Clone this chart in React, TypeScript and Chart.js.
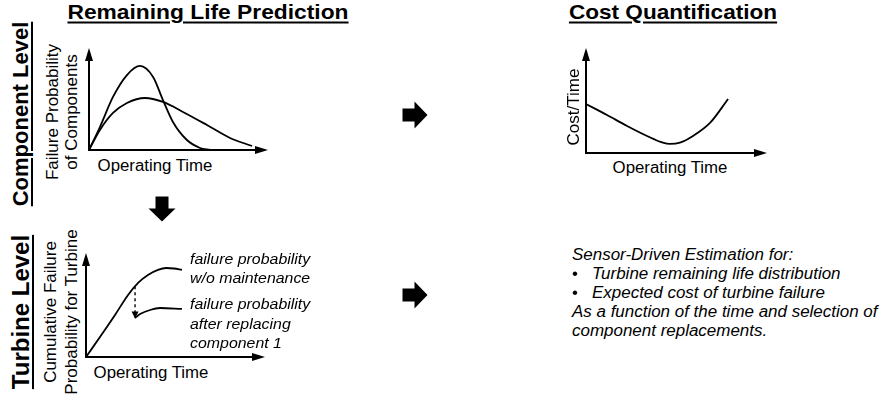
import React, { useEffect, useRef } from "react";
import { Chart, registerables } from "chart.js";
Chart.register(...registerables);

// ---- Data (time / value on a 0..100 scale for each sketch panel) ----
// Component level: two failure-probability density curves
const compTimeA = [0, 6.1, 13.4, 21.2, 28.5, 35.8, 41.3, 46.9, 54.7, 62.0, 67.6];
const compProbA = [0, 22.5, 52.0, 73.5, 82.4, 71.6, 49.0, 27.5, 9.8, 2.0, 0];
const compTimeB = [0, 6.1, 13.4, 21.2, 31.3, 41.3, 52.5, 65.9, 78.8, 91.1];
const compProbB = [0, 19.6, 36.3, 46.1, 51.0, 47.1, 37.3, 24.5, 11.8, 3.9];

// Turbine level: cumulative failure probability
const turbTime = [0, 7.8, 16.2, 23.5, 29.1, 34.6, 40.2, 44.7, 49.2, 53.6];
const turbProb = [0, 19.2, 40.4, 59.6, 71.2, 78.8, 83.7, 85.6, 85.1, 83.7];
const dropTime = [27.4, 27.4];
const dropProb = [68.0, 38.0];
const replTime = [27.4, 30.2, 35.8, 41.3, 53.6];
const replProb = [37.5, 41.3, 45.2, 47.1, 46.2];

// Cost quantification: cost per time
const costTime = [0, 11.6, 22.7, 33.7, 42.5, 46.4, 51.9, 59.1, 68.5, 78.5];
const costValue = [46.7, 36.2, 25.7, 16.2, 9.8, 8.6, 9.8, 16.2, 28.6, 51.4];

const FONT = "'Liberation Sans', Arial, Helvetica, sans-serif";

const pts = (xs: number[], ys: number[]) => xs.map((x, i) => ({ x, y: ys[i] }));

const arrowAxes = {
  id: "arrowAxes",
  beforeDatasetsDraw(chart: any) {
    const { ctx, chartArea: a } = chart;
    ctx.save();
    ctx.strokeStyle = "#000";
    ctx.fillStyle = "#000";
    ctx.lineWidth = 2;
    ctx.beginPath();
    ctx.moveTo(a.left, a.top + 10);
    ctx.lineTo(a.left, a.bottom);
    ctx.lineTo(a.right - 10, a.bottom);
    ctx.stroke();
    ctx.beginPath();
    ctx.moveTo(a.left, a.top);
    ctx.lineTo(a.left - 4, a.top + 13);
    ctx.lineTo(a.left + 4, a.top + 13);
    ctx.closePath();
    ctx.fill();
    ctx.beginPath();
    ctx.moveTo(a.right, a.bottom);
    ctx.lineTo(a.right - 13, a.bottom - 4);
    ctx.lineTo(a.right - 13, a.bottom + 4);
    ctx.closePath();
    ctx.fill();
    ctx.restore();
  },
  afterDatasetsDraw(chart: any) {
    const opts = chart.options.plugins.arrowAxes || {};
    if (opts.tipDataset === undefined) return;
    const meta = chart.getDatasetMeta(opts.tipDataset);
    const last = meta.data[meta.data.length - 1];
    if (!last) return;
    const { ctx } = chart;
    ctx.save();
    ctx.fillStyle = "#000";
    ctx.beginPath();
    ctx.moveTo(last.x, last.y + 1);
    ctx.lineTo(last.x - 3.5, last.y - 6);
    ctx.lineTo(last.x + 3.5, last.y - 6);
    ctx.closePath();
    ctx.fill();
    ctx.restore();
  },
};

type DS = { data: { x: number; y: number }[]; dash?: number[]; straight?: boolean };

function Sketch({ left, top, width, height, sets, tip }: { left: number; top: number; width: number; height: number; sets: DS[]; tip?: number }) {
  const ref = useRef<HTMLCanvasElement>(null);
  useEffect(() => {
    if (!ref.current) return;
    const chart = new Chart(ref.current, {
      type: "line",
      data: {
        datasets: sets.map((s) => ({
          data: s.data,
          borderColor: "#000",
          borderWidth: s.dash ? 1.4 : 1.8,
          borderDash: s.dash || [],
          pointRadius: 0,
          fill: false,
          cubicInterpolationMode: s.straight ? "default" : "monotone",
          tension: s.straight ? 0 : 0.4,
        })),
      },
      options: {
        responsive: false,
        maintainAspectRatio: false,
        animation: false,
        events: [],
        layout: { padding: 4 },
        scales: {
          x: { type: "linear", min: 0, max: 100, display: false },
          y: { type: "linear", min: 0, max: 100, display: false },
        },
        plugins: {
          legend: { display: false },
          tooltip: { enabled: false },
          arrowAxes: { tipDataset: tip },
        } as any,
      },
      plugins: [arrowAxes],
    });
    return () => chart.destroy();
  }, []);
  return (
    <div style={{ position: "absolute", left, top, width, height }}>
      <canvas ref={ref} width={width} height={height} style={{ display: "block" }} />
    </div>
  );
}

type TP = {
  x: number; y: number; size: number; text: string;
  bold?: boolean; italic?: boolean; underline?: boolean; rotate?: boolean; left?: boolean; sx?: number;
};

function T({ x, y, size, text, bold, italic, underline, rotate, left, sx = 1.06 }: TP) {
  let transform = `translate(-50%,-50%) scaleX(${sx})`;
  let origin = "center center";
  if (rotate) transform = "translate(-50%,-50%) rotate(-90deg)";
  else if (left) {
    transform = `translate(0,-50%) scaleX(${sx})`;
    origin = "left center";
  }
  return (
    <div
      style={{
        position: "absolute",
        left: x,
        top: y,
        fontSize: size,
        lineHeight: 1,
        whiteSpace: "pre",
        color: "#000",
        fontFamily: FONT,
        fontWeight: bold ? 700 : 400,
        fontStyle: italic ? "italic" : "normal",
        textDecoration: underline ? "underline" : "none",
        textDecorationThickness: underline ? "2px" : undefined,
        textUnderlineOffset: underline ? "3px" : undefined,
        transform,
        transformOrigin: origin,
      }}
    >
      {text}
    </div>
  );
}

function BlockArrow({ cx, cy, dir }: { cx: number; cy: number; dir: "right" | "down" }) {
  const p = [
    [-12.5, -6.5], [-0.5, -6.5], [-0.5, -13.5], [12.5, 0], [-0.5, 13.5], [-0.5, 6.5], [-12.5, 6.5],
  ];
  const rot = dir === "down" ? 90 : 0;
  return (
    <svg style={{ position: "absolute", left: cx - 16, top: cy - 16 }} width={32} height={32}>
      <polygon
        points={p.map(([a, b]) => `${a + 16},${b + 16}`).join(" ")}
        fill="#000"
        transform={`rotate(${rot} 16 16)`}
      />
    </svg>
  );
}

export default function App() {
  return (
    <div style={{ position: "absolute", left: 0, top: 0, width: 884, height: 400, background: "#fff", overflow: "hidden", fontFamily: FONT }}>
      {/* Titles */}
      <T x={207.5} y={10.5} size={21} bold underline text="Remaining Life Prediction" sx={1.085} />
      <T x={673} y={10.5} size={21} bold underline text="Cost Quantification" sx={1.075} />

      {/* Row labels */}
      <T x={21} y={113.5} size={22} bold underline rotate text="Component Level" />
      <T x={21} y={312} size={24} bold underline rotate text="Turbine Level" />

      {/* Component level sketch */}
      <Sketch left={85} top={44} width={187} height={110}
        sets={[{ data: pts(compTimeA, compProbA) }, { data: pts(compTimeB, compProbB) }]} />
      <T x={52} y={111.5} size={17} rotate text="Failure Probability" />
      <T x={71} y={111.5} size={17} rotate text="of Components" />
      <T x={155} y={165.5} size={16} text="Operating Time" sx={1.05} />

      {/* Turbine level sketch */}
      <Sketch left={82} top={249} width={187} height={112} tip={1}
        sets={[
          { data: pts(turbTime, turbProb) },
          { data: pts(dropTime, dropProb), dash: [3, 3], straight: true },
          { data: pts(replTime, replProb) },
        ]} />
      <T x={50} y={312} size={17} rotate text="Cumulative Failure" />
      <T x={71} y={312} size={17} rotate text="Probability for Turbine" />
      <T x={150.5} y={373} size={16} text="Operating Time" sx={1.05} />
      <T x={190} y={258} size={15} italic left text="failure probability" />
      <T x={190} y={277} size={15} italic left text="w/o maintenance" />
      <T x={190} y={303} size={15} italic left text="failure probability" />
      <T x={190} y={323} size={15} italic left text="after replacing" />
      <T x={190} y={342} size={15} italic left text="component 1" />

      {/* Cost sketch */}
      <Sketch left={582} top={44} width={189} height={113}
        sets={[{ data: pts(costTime, costValue) }]} />
      <T x={573} y={106.5} size={17} rotate text="Cost/Time" />
      <T x={669.5} y={168} size={16} text="Operating Time" sx={1.05} />

      {/* Block arrows */}
      <BlockArrow cx={414.5} cy={114.5} dir="right" />
      <BlockArrow cx={414.5} cy={295} dir="right" />
      <BlockArrow cx={162} cy={208.5} dir="down" />

      {/* Sensor-driven text */}
      <T x={572} y={255} size={16} italic left text="Sensor-Driven Estimation for:" />
      <T x={572} y={274} size={16} left text="•" />
      <T x={592} y={274} size={16} italic left text="Turbine remaining life distribution" />
      <T x={572} y={293} size={16} left text="•" />
      <T x={592} y={293} size={16} italic left text="Expected cost of turbine failure" />
      <T x={572} y={312} size={16} italic left text="As a function of the time and selection of" />
      <T x={572} y={331} size={16} italic left text="component replacements." />
    </div>
  );
}
